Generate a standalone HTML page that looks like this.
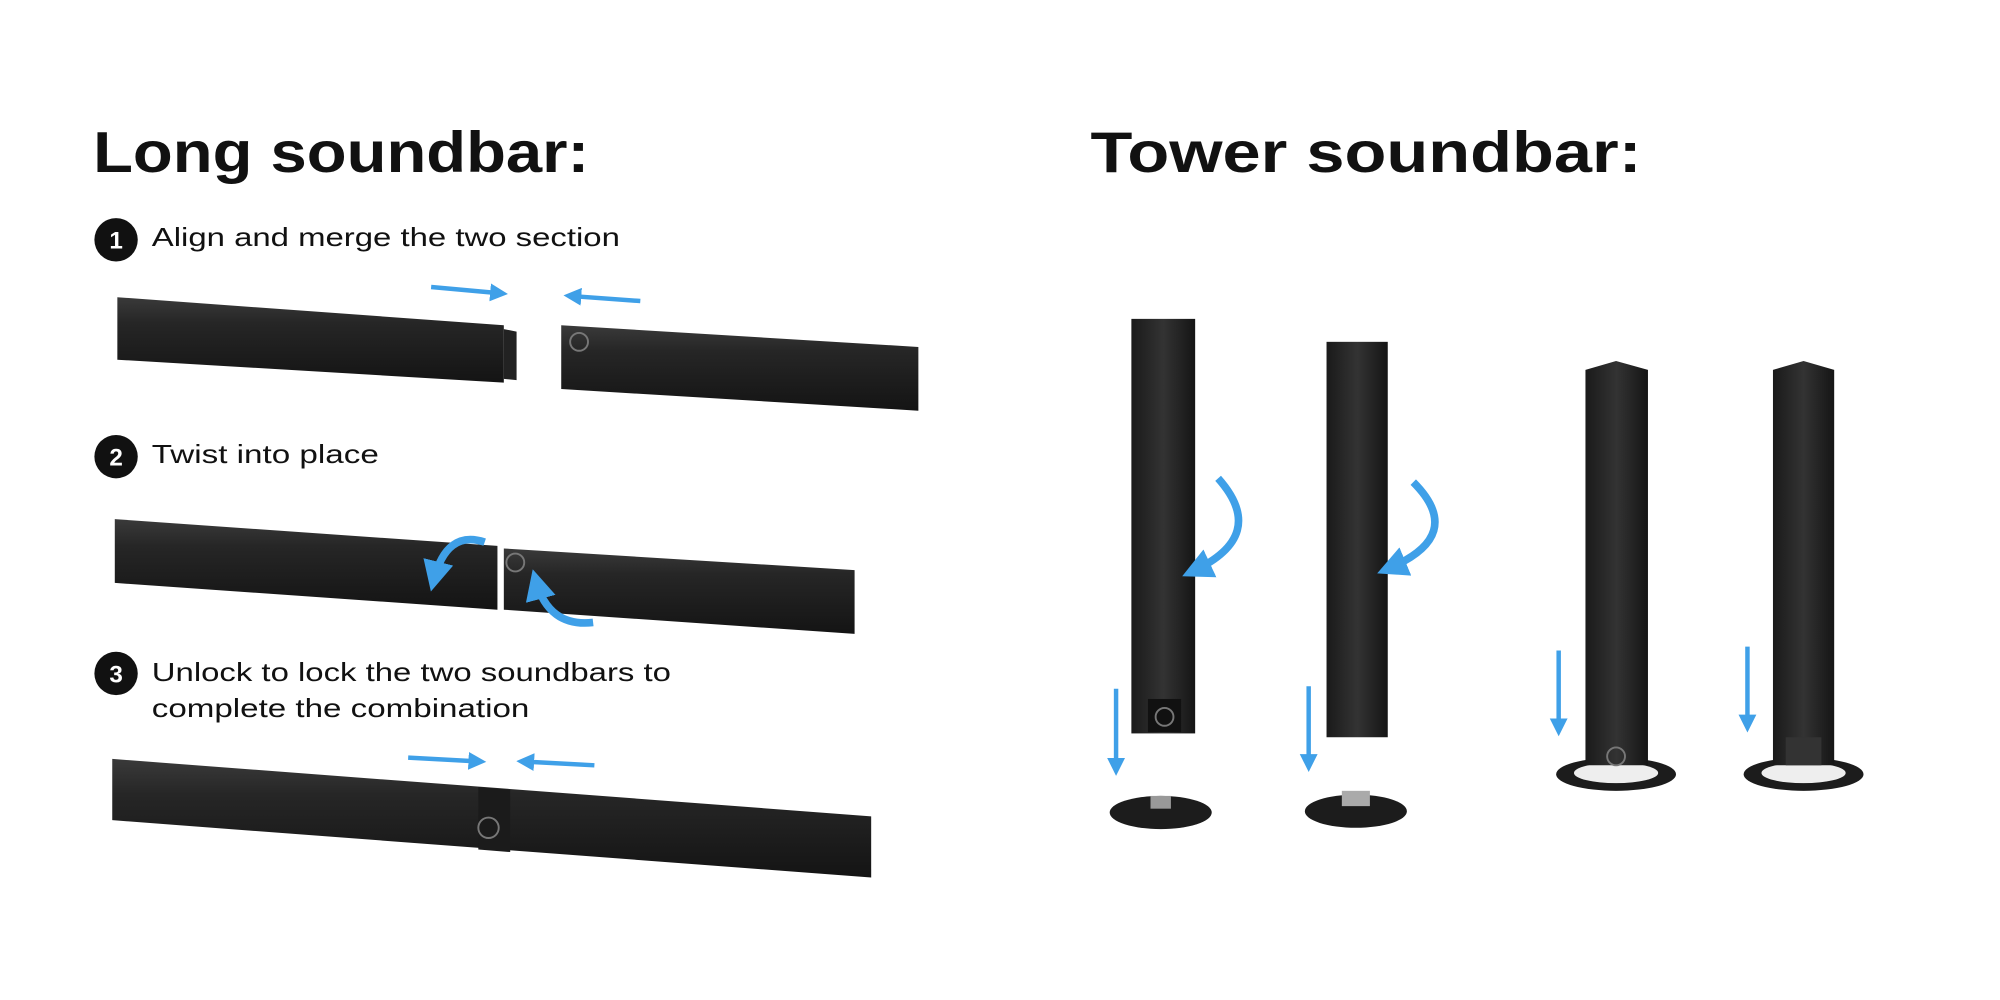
<!DOCTYPE html>
<html><head><meta charset="utf-8"><style>
html,body{margin:0;padding:0;background:#fff;}
svg{display:block;}
text{font-family:"Liberation Sans",sans-serif;fill:#111;}
</style></head><body>
<svg width="2000" height="1000" viewBox="0 0 1568 784" xmlns="http://www.w3.org/2000/svg">
<defs>
<linearGradient id="bar" x1="0" y1="0" x2="0" y2="1">
<stop offset="0" stop-color="#3a3a3a"/><stop offset="0.3" stop-color="#262626"/><stop offset="1" stop-color="#141414"/>
</linearGradient>
<linearGradient id="tw" x1="0" y1="0" x2="1" y2="0">
<stop offset="0" stop-color="#1a1a1a"/><stop offset="0.5" stop-color="#333"/><stop offset="1" stop-color="#151515"/>
</linearGradient>
<marker id="ah" markerWidth="4" markerHeight="4" refX="2.5" refY="2" orient="auto" markerUnits="strokeWidth">
<path d="M0,0 L4,2 L0,4 z" fill="#3fa0e8"/>
</marker>
</defs>
<rect width="1568" height="784" fill="#fff"/>

<text x="73" y="135" font-size="45" font-weight="bold" textLength="389" lengthAdjust="spacingAndGlyphs">Long soundbar:</text>
<text x="855" y="135" font-size="45" font-weight="bold" textLength="432" lengthAdjust="spacingAndGlyphs">Tower soundbar:</text>

<g font-size="20">
<circle cx="91" cy="188" r="17" fill="#111"/><text x="91" y="195" font-size="19" font-weight="bold" text-anchor="middle" style="fill:#fff">1</text>
<text x="119" y="193" textLength="367" lengthAdjust="spacingAndGlyphs">Align and merge the two section</text>
<circle cx="91" cy="358" r="17" fill="#111"/><text x="91" y="365" font-size="19" font-weight="bold" text-anchor="middle" style="fill:#fff">2</text>
<text x="119" y="363" textLength="178" lengthAdjust="spacingAndGlyphs">Twist into place</text>
<circle cx="91" cy="528" r="17" fill="#111"/><text x="91" y="535" font-size="19" font-weight="bold" text-anchor="middle" style="fill:#fff">3</text>
<text x="119" y="534" textLength="407" lengthAdjust="spacingAndGlyphs">Unlock to lock the two soundbars to</text>
<text x="119" y="562" textLength="296" lengthAdjust="spacingAndGlyphs">complete the combination</text>
</g>

<!-- step 1 bars -->
<polygon points="92,233 395,255 395,300 92,282" fill="url(#bar)"/>
<polygon points="395,258 405,260 405,298 395,297" fill="#222"/>
<polygon points="440,255 720,272 720,322 440,305" fill="url(#bar)"/>
<circle cx="454" cy="268" r="7" fill="none" stroke="#777" stroke-width="1.5"/>
<!-- step 2 -->
<polygon points="90,407 390,428 390,478 90,457" fill="url(#bar)"/>
<polygon points="395,430 670,447 670,497 395,478" fill="url(#bar)"/>
<circle cx="404" cy="441" r="7" fill="none" stroke="#777" stroke-width="1.5"/>
<!-- step 3 -->
<polygon points="88,595 683,640 683,688 88,643" fill="url(#bar)"/>
<polygon points="375,617 400,619 400,668 375,666" fill="#1b1b1b"/>
<circle cx="383" cy="649" r="8" fill="none" stroke="#777" stroke-width="1.5"/>

<!-- towers -->
<rect x="887" y="250" width="50" height="325" fill="url(#tw)"/>
<rect x="900" y="548" width="26" height="26" fill="#111"/>
<circle cx="913" cy="562" r="7" fill="none" stroke="#777" stroke-width="1.5"/>
<rect x="1040" y="268" width="48" height="310" fill="url(#tw)"/>
<ellipse cx="910" cy="637" rx="40" ry="13" fill="#1c1c1c"/>
<rect x="902" y="624" width="16" height="10" fill="#999"/>
<ellipse cx="1063" cy="636" rx="40" ry="13" fill="#1c1c1c"/>
<rect x="1052" y="620" width="22" height="12" fill="#aaa"/>

<ellipse cx="1267" cy="607" rx="47" ry="13" fill="#1c1c1c"/>
<ellipse cx="1267" cy="606" rx="33" ry="8" fill="#eee"/>
<polygon points="1243,290 1267,283 1292,290 1292,600 1243,600" fill="url(#tw)"/>
<circle cx="1267" cy="593" r="7" fill="none" stroke="#777" stroke-width="1.5"/>
<ellipse cx="1414" cy="607" rx="47" ry="13" fill="#1c1c1c"/>
<ellipse cx="1414" cy="606" rx="33" ry="8" fill="#eee"/>
<polygon points="1390,290 1414,283 1438,290 1438,600 1390,600" fill="url(#tw)"/>
<rect x="1400" y="578" width="28" height="22" fill="#333"/>

<g stroke="#3fa0e8" stroke-width="3.5" fill="none" marker-end="url(#ah)">
<line x1="338" y1="225" x2="393" y2="230"/>
<line x1="502" y1="236" x2="447" y2="232"/>
<line x1="320" y1="594" x2="376" y2="597"/>
<line x1="466" y1="600" x2="410" y2="597"/>
<line x1="875" y1="540" x2="875" y2="603"/>
<line x1="1026" y1="538" x2="1026" y2="600"/>
<line x1="1222" y1="510" x2="1222" y2="572"/>
<line x1="1370" y1="507" x2="1370" y2="569"/>
</g>
<g stroke="#3fa0e8" stroke-width="6" fill="none" marker-end="url(#ah)">
<path d="M380,425 Q350,415 340,455"/>
<path d="M465,488 Q430,492 420,455"/>
<path d="M955,375 Q995,420 935,448"/>
<path d="M1108,378 Q1150,420 1088,446"/>
</g>
</svg>
</body></html>
